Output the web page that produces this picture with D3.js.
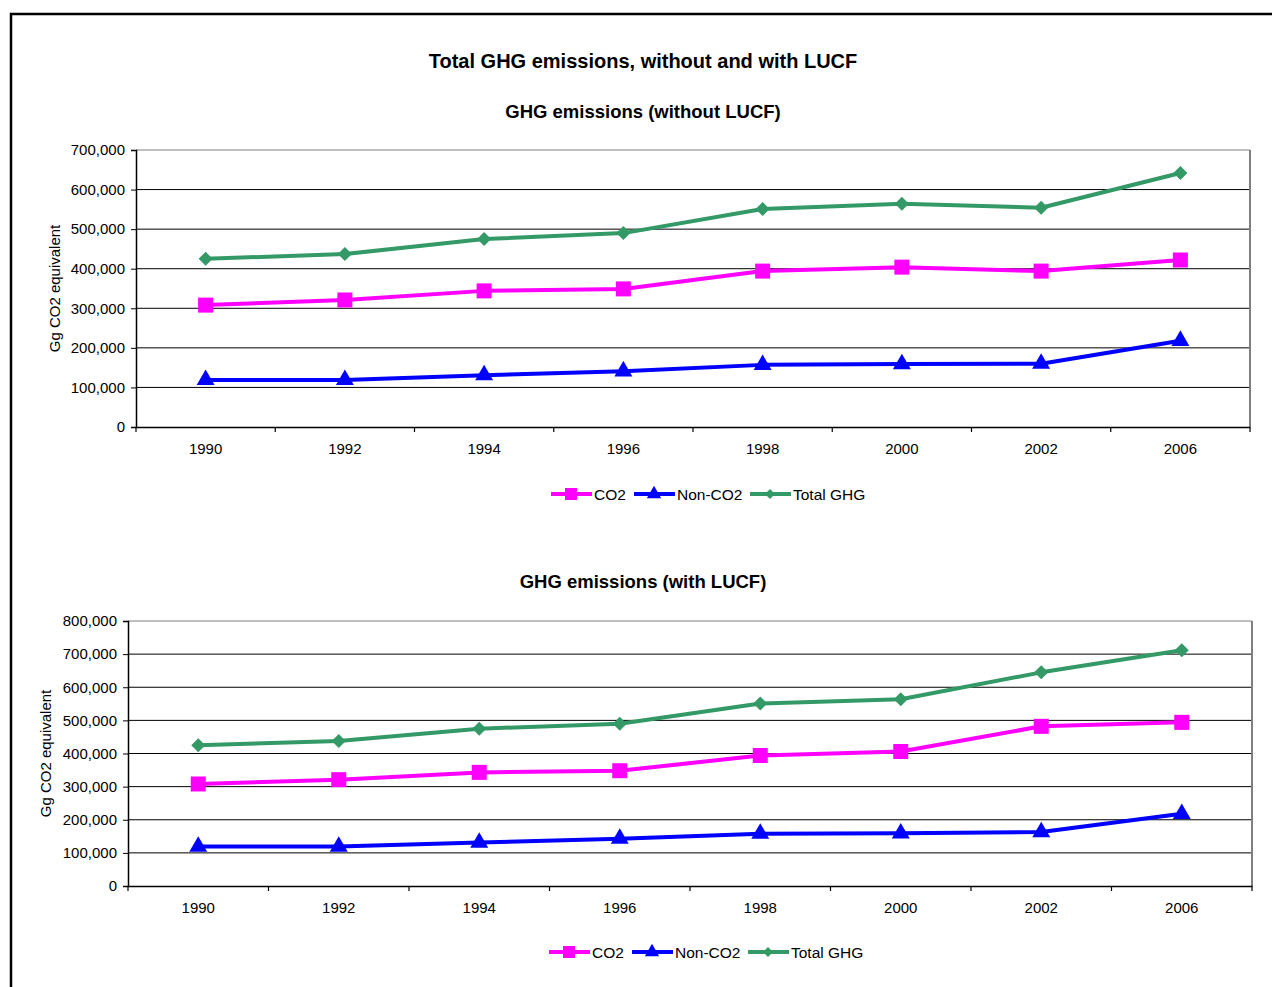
<!DOCTYPE html>
<html>
<head>
<meta charset="utf-8">
<script src="https://cdn.jsdelivr.net/npm/d3@7"></script>
<style>
  body { margin: 0; background: #fff; }
  svg text { font-family: "Liberation Sans", Arial, sans-serif; fill: #000; }
</style>
</head>
<body>
<div id="canvas"></div>
<script>
// data
const years = ["1990", "1992", "1994", "1996", "1998", "2000", "2002", "2006"];

const co2Without = [308000, 321000, 344000, 349000, 394000, 404000, 394000, 422000];
const nonCo2Without = [119000, 119000, 131000, 141000, 157000, 159000, 160000, 218000];
const totalWithout = [425000, 437000, 475000, 490000, 551000, 564000, 554000, 642000];

const co2With = [308000, 321000, 343000, 348000, 394000, 406000, 482000, 494000];
const nonCo2With = [119000, 119000, 131000, 143000, 158000, 159000, 163000, 218000];
const totalWith = [425000, 438000, 475000, 490000, 551000, 564000, 645000, 712000];

const ticksWithout = [0, 100000, 200000, 300000, 400000, 500000, 600000, 700000];
const ticksWith = [0, 100000, 200000, 300000, 400000, 500000, 600000, 700000, 800000];

const seriesNames = ["CO2", "Non-CO2", "Total GHG"];
const colors = ["#ff00ff", "#0000ff", "#339966"];

const width = 1272, height = 987;
const svg = d3.select("#canvas").append("svg")
    .attr("width", width).attr("height", height);

// outer frame (runs off the right and bottom edge)
svg.append("rect")
    .attr("x", 11).attr("y", 14)
    .attr("width", 1300).attr("height", 1000)
    .attr("fill", "none").attr("stroke", "#000").attr("stroke-width", 2.5);

svg.append("text")
    .attr("x", 643).attr("y", 68)
    .attr("text-anchor", "middle")
    .style("font-size", "20px").style("font-weight", "bold")
    .text("Total GHG emissions, without and with LUCF");

function markerPath(i, s) {
    if (i === 0) return d3.symbol(d3.symbolSquare, s * s)();
    if (i === 1) return d3.symbol(d3.symbolTriangle, s * s * 0.62)();
    return d3.symbol(d3.symbolSquare, s * s * 0.5)();
}

function drawChart(opt) {
    const { left, right, top, bottom, ticks, maxY, data, title, titleY, ylabX, legendX, legendY } = opt;
    const g = svg.append("g");

    const x = d3.scaleBand().domain(years).range([left, right]).padding(0);
    const y = d3.scaleLinear().domain([0, maxY]).range([bottom, top]);

    g.append("text")
        .attr("x", 643).attr("y", titleY)
        .attr("text-anchor", "middle")
        .style("font-size", "18.5px").style("font-weight", "bold")
        .text(title);

    // gridlines
    g.append("g").selectAll("line").data(ticks.filter(t => t > 0)).enter().append("line")
        .attr("x1", left).attr("x2", right)
        .attr("y1", d => y(d)).attr("y2", d => y(d))
        .attr("stroke", d => d === maxY ? "#808080" : "#000")
        .attr("stroke-width", 1);

    // right border of plot area
    g.append("line")
        .attr("x1", right).attr("x2", right).attr("y1", top).attr("y2", bottom)
        .attr("stroke", "#808080").attr("stroke-width", 2);

    // y axis
    const yAxis = g.append("g")
        .attr("transform", `translate(${left},0)`)
        .call(d3.axisLeft(y).tickValues(ticks).tickSize(5).tickPadding(6)
            .tickFormat(d3.format(",")));
    yAxis.select(".domain").attr("stroke", "#000").attr("stroke-width", 1.5);
    yAxis.selectAll("text").style("font-size", "15px").style("font-family", "Liberation Sans, Arial, sans-serif");

    // x axis: labels centred, tick marks between categories
    const xAxis = g.append("g")
        .attr("transform", `translate(0,${bottom})`)
        .call(d3.axisBottom(x).tickSize(0).tickPadding(16));
    xAxis.select(".domain").attr("stroke", "#000").attr("stroke-width", 1.5);
    xAxis.selectAll("text").style("font-size", "15px").style("font-family", "Liberation Sans, Arial, sans-serif");
    const edges = years.map(d => x(d)).concat([right]);
    g.append("g").selectAll("line").data(edges).enter().append("line")
        .attr("x1", d => d).attr("x2", d => d)
        .attr("y1", bottom).attr("y2", bottom + 5)
        .attr("stroke", "#000").attr("stroke-width", 1.2);

    // y title
    g.append("text")
        .attr("transform", `translate(${ylabX},${(top + bottom) / 2}) rotate(-90)`)
        .attr("text-anchor", "middle")
        .style("font-size", "15px")
        .text("Gg CO2 equivalent");

    const line = d3.line()
        .x((d, i) => x(years[i]) + x.bandwidth() / 2)
        .y(d => y(d));

    // draw green first, then pink, then blue on top
    [2, 0, 1].forEach(si => {
        const vals = data[si];
        g.append("path")
            .attr("d", line(vals))
            .attr("fill", "none")
            .attr("stroke", colors[si])
            .attr("stroke-width", 4)
            .attr("stroke-linejoin", "round");
        g.append("g").selectAll("path").data(vals).enter().append("path")
            .attr("d", markerPath(si, si === 2 ? 14 : 15))
            .attr("transform", (d, i) => {
                const cx = x(years[i]) + x.bandwidth() / 2;
                const cy = y(d);
                return si === 2 ? `translate(${cx},${cy}) rotate(45)` : `translate(${cx},${cy})`;
            })
            .attr("fill", colors[si]);
    });

    // legend
    const legendOffsets = [0, 83, 199];
    const lg = g.append("g").attr("transform", `translate(${legendX},${legendY})`);
    seriesNames.forEach((name, si) => {
        const ox = legendOffsets[si];
        lg.append("line")
            .attr("x1", ox).attr("x2", ox + 41)
            .attr("y1", 0).attr("y2", 0)
            .attr("stroke", colors[si]).attr("stroke-width", 4);
        lg.append("path")
            .attr("d", markerPath(si, si === 2 ? 10 : 12))
            .attr("transform", si === 2 ? `translate(${ox + 20},0) rotate(45)` : `translate(${ox + 20},0)`)
            .attr("fill", colors[si]);
        lg.append("text")
            .attr("x", ox + 43).attr("y", 6)
            .style("font-size", "15.5px")
            .text(name);
    });
}

drawChart({
    left: 136, right: 1250, top: 150, bottom: 427,
    ticks: ticksWithout, maxY: 700000,
    data: [co2Without, nonCo2Without, totalWithout],
    title: "GHG emissions (without LUCF)", titleY: 118,
    ylabX: 60, legendX: 551, legendY: 494
});

drawChart({
    left: 128, right: 1252, top: 621, bottom: 886,
    ticks: ticksWith, maxY: 800000,
    data: [co2With, nonCo2With, totalWith],
    title: "GHG emissions (with LUCF)", titleY: 588,
    ylabX: 51, legendX: 549, legendY: 952
});
</script>
</body>
</html>
